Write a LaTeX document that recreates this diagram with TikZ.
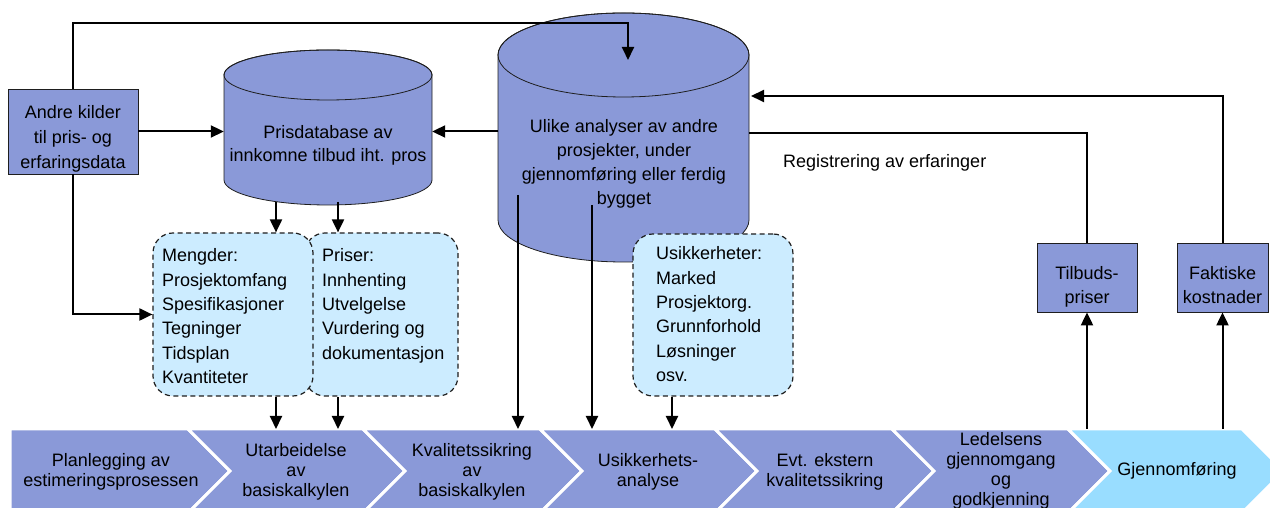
\documentclass[tikz,border=0pt]{standalone}
\usepackage{fontspec}
\setmainfont{Liberation Sans}
\usetikzlibrary{arrows.meta,calc}
\definecolor{pblue}{RGB}{138,153,216}
\definecolor{lcyan}{RGB}{204,236,255}
\definecolor{skyb}{RGB}{153,221,255}
\definecolor{olc}{RGB}{30,30,30}
\newcommand{\drawcyl}[5]{%
  \draw[cylstyle] ({#1-#4},#2) -- ({#1-#4},#3) arc[start angle=180,end angle=360,x radius=#4,y radius=#5] -- ({#1+#4},#2) arc[start angle=0,end angle=180,x radius=#4,y radius=#5] -- cycle;
  \draw[draw=olc,line width=0.8pt] (#1,#2) ellipse[x radius=#4,y radius=#5];}
\begin{document}
\begin{tikzpicture}[x=1pt,y=1pt,
  txt/.style={font=\fontsize{18}{20}\selectfont, align=center, inner sep=0pt},
  lst/.style={font=\fontsize{18}{24.4}\selectfont, align=left, inner sep=0pt, anchor=north west},
  sqbox/.style={draw=olc, line width=0.8pt, fill=pblue, inner sep=0pt, align=center},
  dbox/.style={draw=olc, dash pattern=on 5pt off 3.5pt, line width=1.2pt, fill=lcyan, rounded corners=20pt, inner sep=0pt},
  cylstyle/.style={fill=pblue, draw=olc, line width=0.8pt},
  conn/.style={line width=2pt, draw=black},
  arr/.style={conn, -{Triangle[length=13pt,width=12pt]}},
  chev/.style={fill=pblue, draw=white, line width=3pt, line join=miter}]
\useasboundingbox (0,0) rectangle (1270,508);
\clip (0,0) rectangle (1270,508);
% chevrons
\draw[chev] (10,79) -- (188,79) -- (230,37) -- (188,-5) -- (10,-5) -- cycle;
\draw[chev] (188,79) -- (363,79) -- (405,37) -- (363,-5) -- (188,-5) -- (230,37) -- cycle;
\draw[chev] (363,79) -- (540,79) -- (582,37) -- (540,-5) -- (363,-5) -- (405,37) -- cycle;
\draw[chev] (540,79) -- (715,79) -- (757,37) -- (715,-5) -- (540,-5) -- (582,37) -- cycle;
\draw[chev] (715,79) -- (892,79) -- (934,37) -- (892,-5) -- (715,-5) -- (757,37) -- cycle;
\draw[chev] (892,79) -- (1068,79) -- (1110,37) -- (1068,-5) -- (892,-5) -- (934,37) -- cycle;
\draw[chev, fill=skyb] (1068,79) -- (1242,79) -- (1284,37) -- (1242,-5) -- (1068,-5) -- (1110,37) -- cycle;
\coordinate (chevtop) at (0,79);
\node[txt] (c1) at (111,36) {Planlegging av\\estimeringsprosessen};
\node[txt] (c2) at (296,36) {Utarbeidelse\\av\\basiskalkylen};
\node[txt] (c3) at (472,36) {Kvalitetssikring\\av\\basiskalkylen};
\node[txt] (c4) at (648,36) {Usikkerhets-\\analyse};
\node[txt] (c5) at (825,36) {Evt. ekstern\\kvalitetssikring};
\node[txt] (c6) at (1001,37) {Ledelsens\\gjennomgang\\og\\godkjenning};
\node[txt] (c7) at (1177,37) {Gjennomføring};
% cylinders
\drawcyl{328}{433}{328}{104}{25}
\drawcyl{623.5}{453}{288}{125.5}{42}
\node[txt, font=\fontsize{18}{23}\selectfont, minimum width=208pt] (pris) at (328,363) {Prisdatabase av\\innkomne tilbud iht. pros};
\node[txt, font=\fontsize{18}{24}\selectfont, minimum width=251pt] (ulike) at (624,344) {Ulike analyser av andre\\prosjekter, under\\gjennomføring eller ferdig\\bygget};
% dashed boxes
\node[dbox, minimum width=153pt, minimum height=163pt] (priser) at (381.5,193.5) {};
\node[dbox, minimum width=160pt, minimum height=163pt] (mengder) at (233,193.5) {};
\node[dbox, minimum width=160pt, minimum height=162pt] (usikk) at (713,193) {};
\node[lst] (mtxt) at (162,259.5) {Mengder:\\Prosjektomfang\\Spesifikasjoner\\Tegninger\\Tidsplan\\Kvantiteter};
\node[lst] (ptxt) at (322,259.5) {Priser:\\Innhenting\\Utvelgelse\\Vurdering og\\dokumentasjon};
\node[lst] (utxt) at (656,261.5) {Usikkerheter:\\Marked\\Prosjektorg.\\Grunnforhold\\Løsninger\\osv.};
% square boxes
\node[sqbox, font=\fontsize{18}{25}\selectfont, minimum width=130pt, minimum height=85pt] (andre) at (73,376.5) {\rule{0pt}{28pt}Andre kilder\\til pris- og\\erfaringsdata};
\node[sqbox, font=\fontsize{18}{24}\selectfont, minimum width=100pt, minimum height=69pt] (tilbud) at (1087,230.5) {\rule{0pt}{32pt}Tilbuds-\\priser};
\node[sqbox, font=\fontsize{18}{24}\selectfont, minimum width=91pt, minimum height=69pt] (faktiske) at (1222.5,230.5) {\rule{0pt}{28pt}Faktiske\\kostnader};
\node[txt, anchor=west] (regtxt) at (783,345) {Registrering av erfaringer};
% coordinates
\coordinate (topturn) at (628,485);
\coordinate (ulikeTop) at (628,448);
\coordinate (p1) at (276,306);
\coordinate (p2) at (338,306);
\coordinate (u1) at (518,313);
\coordinate (u2) at (592,303);
\coordinate (u3) at (672,0);
\coordinate (regline) at (749,375);
\coordinate (feedback) at (751,412);
% connectors
\draw[arr] (andre.north) |- (topturn) -- (ulikeTop);
\draw[arr] (andre.east) -- (andre.east -| pris.west);
\draw[arr] (andre.south) |- (mengder.west);
\draw[arr] (andre.east -| ulike.west) -- (andre.east -| pris.east);
\draw[arr] (p1) -- (p1 |- mengder.north);
\draw[arr] (p2) -- (p2 |- priser.north);
\draw[arr] (p1 |- mengder.south) -- (p1 |- chevtop);
\draw[arr] (p2 |- priser.south) -- (p2 |- chevtop);
\draw[arr] (u1) -- (u1 |- chevtop);
\draw[arr] (u2) -- (u2 |- chevtop);
\draw[arr] (u3 |- usikk.south) -- (u3 |- chevtop);
\draw[arr] (tilbud.south |- chevtop) -- (tilbud.south);
\draw[arr] (faktiske.south |- chevtop) -- (faktiske.south);
\draw[conn] (tilbud.north) |- (regline);
\draw[arr] (faktiske.north) |- (feedback);
\end{tikzpicture}
\end{document}
